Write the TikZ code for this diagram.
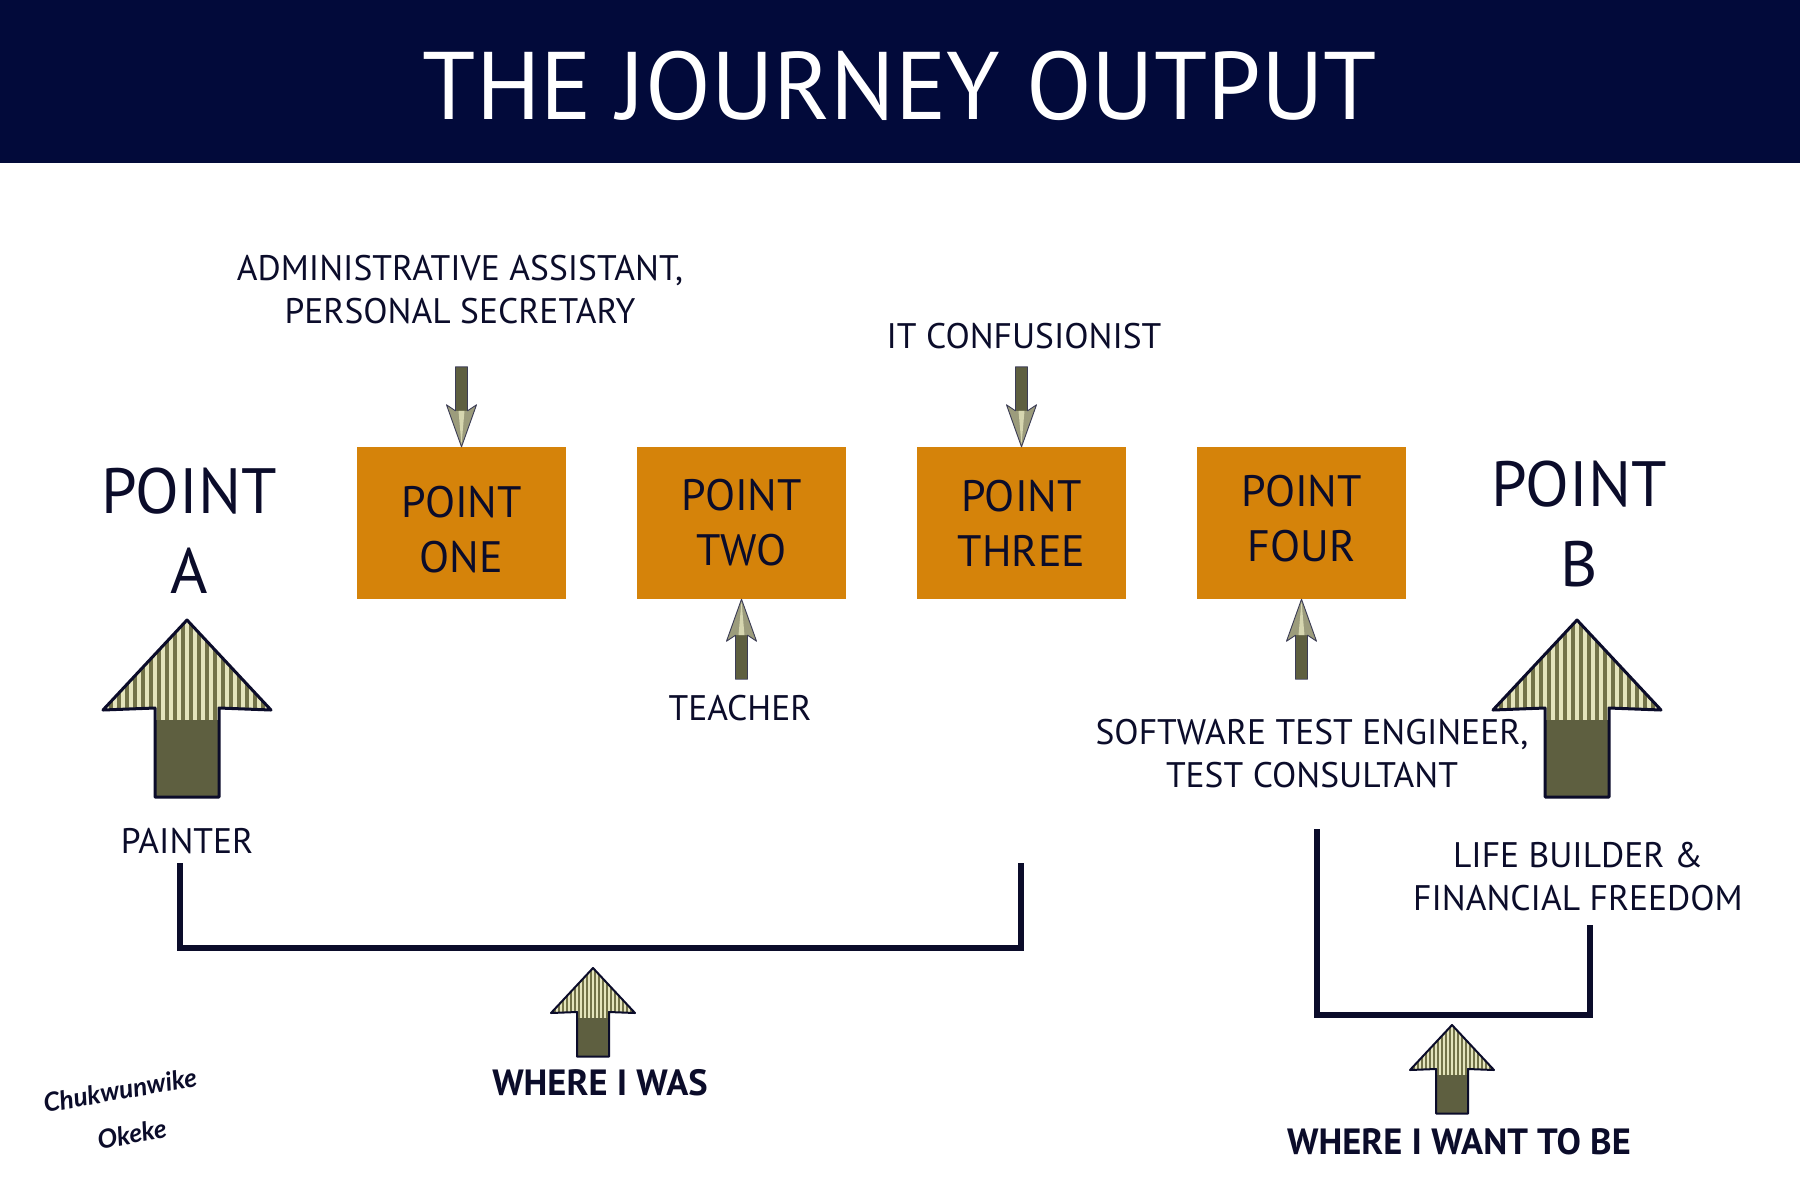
\documentclass[tikz,border=0pt]{standalone}
\usepackage{fontspec}
\setmainfont{PT Sans}
\newfontfamily\signfont{Lato}
\definecolor{headerblue}{HTML}{020A3A}
\definecolor{ink}{HTML}{0B0C2A}
\definecolor{boxorange}{HTML}{D5830A}
\definecolor{olive}{HTML}{5E5F40}
\definecolor{stripelight}{HTML}{E4E4BC}
\definecolor{stripedark}{HTML}{727248}
\definecolor{headgrey}{HTML}{9C9C7C}
\tikzset{
  pointbox/.style={fill=boxorange, minimum width=209, minimum height=152, inner sep=0,
    text=ink, align=center, font=\fontsize{44}{55}\selectfont},
  boxtext/.style={text=ink, align=center, font=\fontsize{44}{55}\selectfont},
  bigpoint/.style={text=ink, align=center, font=\fontsize{64}{80}\selectfont},
  lbl/.style={text=ink, align=center, font=\fontsize{35.5}{43}\selectfont},
  where/.style={text=ink, font=\bfseries\fontsize{36.5}{40}\selectfont},
  signtext/.style={text=ink, rotate=10, inner sep=1, font=\signfont\bfseries\itshape\fontsize{26}{30}\selectfont},
  bracket/.style={draw=ink, line width=6, line join=miter},
  % broad striped block arrow, tip at the origin, pointing up
  pics/blockup/.style={code={
    \fill[olive] (-32,86) rectangle (32,177);
    \begin{scope}
      \clip (0,0) -- (84,90) -- (32,88) -- (32,100) -- (-32,100) -- (-32,88) -- (-84,90) -- cycle;
      \fill[stripelight] (-86,0) rectangle (86,100);
      \foreach \s in {-86,-78,...,84} \fill[stripedark] (\s,0) rectangle ++(4,100);
    \end{scope}
    \draw[ink, line width=#1, line join=round]
      (0,0) -- (84,90) -- (32,88) -- (32,177) -- (-32,177) -- (-32,88) -- (-84,90) -- cycle;
  }},
  % slim pointer arrow, tip at the origin, pointing up
  pics/slimup/.style={code={
    \fill[olive] (-6,35) rectangle (6,80);
    \fill[headgrey] (0,0) -- (15,42) -- (6,36) -- (-6,36) -- (-15,42) -- cycle;
    \fill[stripelight!80!headgrey] (0,2) -- (3,36) -- (-3,36) -- cycle;
    \draw[ink!80, line width=0.9, line join=round]
      (0,0) -- (15,42) -- (6,36) -- (6,80) -- (-6,80) -- (-6,36) -- (-15,42) -- cycle;
  }}
}
\begin{document}
\begin{tikzpicture}[x=1pt, y=-1pt]
\useasboundingbox (0,0) rectangle (1800,1200);
\fill[white] (0,0) rectangle (1800,1200);

% title band
\fill[headerblue] (0,0) rectangle (1800,163);
\node[text=white, font=\fontsize{96}{100}\selectfont] (title) at (900,86) {THE JOURNEY OUTPUT};

% the four stages
\node[pointbox] (p1) at (461.5,523) {};
\node[pointbox] (p2) at (741.5,523) {};
\node[pointbox] (p3) at (1021.5,523) {};
\node[pointbox] (p4) at (1301.5,523) {};
\node[boxtext] (t1) at ([yshift=-7]p1.center) {POINT\\ONE};
\node[boxtext] (t2) at (p2.center) {POINT\\TWO};
\node[boxtext] (t3) at (p3.center) {POINT\\THREE};
\node[boxtext] (t4) at ([yshift=4]p4.center) {POINT\\FOUR};

% start and end points
\node[bigpoint] (pa) at (189,531) {POINT\\A};
\node[bigpoint] (pb) at (1579,524) {POINT\\B};
\pic at (187,620) {blockup=3};
\pic at (1577,620) {blockup=3};

% roles along the way
\node[lbl] (admin) at (460,290) {ADMINISTRATIVE ASSISTANT,\\PERSONAL SECRETARY};
\node[lbl] (itc) at (1024,336) {IT CONFUSIONIST};
\node[lbl] (teacher) at (740,708) {TEACHER};
\node[lbl] (soft) at (1312,754) {SOFTWARE TEST ENGINEER,\\TEST CONSULTANT};
\node[lbl] (painter) at (187,841) {PAINTER};
\node[lbl] (life) at (1578,877) {LIFE BUILDER \&\\FINANCIAL FREEDOM};

% pointers from roles to stages
\pic[rotate=180] at (p1.north) {slimup};
\pic[rotate=180] at (p3.north) {slimup};
\pic at (p2.south) {slimup};
\pic at (p4.south) {slimup};

% brackets
\coordinate (la) at (180,863);
\coordinate (lb) at (180,948);
\coordinate (lc) at (1021,948);
\coordinate (ld) at (1021,863);
\draw[bracket] (la) -- (lb) -- (lc) -- (ld);
\coordinate (ra) at (1317,829);
\coordinate (rb) at (1317,1015);
\coordinate (rc) at (1590,1015);
\coordinate (rd) at (1590,925);
\draw[bracket] (ra) -- (rb) -- (rc) -- (rd);

\pic[scale=0.5] at (593,968) {blockup=2};
\node[where] (was) at (600,1083) {WHERE I WAS};
\pic[scale=0.5] at (1452,1025) {blockup=2};
\node[where] (want) at (1459,1142) {WHERE I WANT TO BE};

% signature
\node[signtext] (sign1) at (120,1090) {Chukwunwike};
\node[signtext] (sign2) at (132,1134) {Okeke};
\end{tikzpicture}
\end{document}
